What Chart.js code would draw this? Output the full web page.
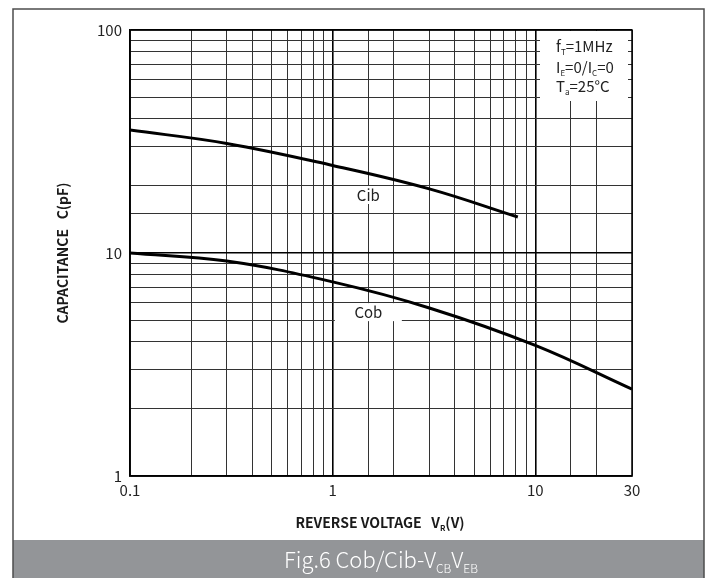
<!DOCTYPE html>
<html>
<head>
<meta charset="utf-8">
<script src="https://cdn.jsdelivr.net/npm/chart.js@4.4.1/dist/chart.umd.min.js"></script>
<style>
  html, body { margin: 0; padding: 0; background: #fff; }
  #wrap { width: 713px; height: 578px; }
</style>
</head>
<body>
<div id="wrap"><canvas id="cap-chart" width="713" height="578"></canvas></div>
<script>
// Cib / Cob curves
const cibVoltage = [0.1, 0.3, 1, 3, 8.2];
const cibValues = [35.6, 31.0, 24.7, 19.4, 14.5];
const cobVoltage = [0.1, 0.3, 1, 3, 10, 30];
const cobValues = [10, 9.2, 7.42, 5.67, 3.85, 2.45];

const xTickLabels = [0.1, 1, 10, 30];
const yTickLabels = [1, 10, 100];

const FONT = "'Noto Sans CJK SC', 'Noto Sans', sans-serif";

function toPoints(xs, ys) {
    return xs.map((x, i) => ({ x: x, y: ys[i] }));
}

function isLabelled(value, list) {
    return list.some(v => Math.abs(v - value) / v < 1e-6);
}

// draw a string made of runs, some of them subscripts
function drawRuns(ctx, runs, x, y, size, weight, align) {
    const subSize = Math.round(size * 0.55);
    let total = 0;
    runs.forEach(r => {
        ctx.font = weight + ' ' + (r.sub ? subSize : size) + 'px ' + FONT;
        r.w = ctx.measureText(r.t).width;
        total += r.w;
    });
    let cx = align === 'center' ? x - total / 2 : x;
    ctx.textAlign = 'left';
    ctx.textBaseline = 'alphabetic';
    runs.forEach(r => {
        ctx.font = weight + ' ' + (r.sub ? subSize : size) + 'px ' + FONT;
        ctx.fillText(r.t, cx, r.sub ? y + size * 0.22 : y);
        cx += r.w;
    });
}

const decorPlugin = {
    id: 'decor',
    beforeDraw(chart) {
        const ctx = chart.ctx;
        ctx.save();
        ctx.fillStyle = '#fff';
        ctx.fillRect(0, 0, chart.width, chart.height);
        // grey caption bar
        ctx.fillStyle = '#939598';
        ctx.fillRect(13, 540, 691, 38);
        // outer frame
        ctx.strokeStyle = '#4d4d4d';
        ctx.lineWidth = 1.5;
        ctx.beginPath();
        ctx.moveTo(13, 578);
        ctx.lineTo(13, 9);
        ctx.lineTo(704, 9);
        ctx.lineTo(704, 578);
        ctx.stroke();
        // caption
        ctx.fillStyle = '#fff';
        drawRuns(ctx, [
            { t: 'Fig.6 Cob/Cib-V' }, { t: 'CB', sub: true },
            { t: 'V' }, { t: 'EB', sub: true }
        ], 381, 568, 22, '300', 'center');
        ctx.restore();
    },
    beforeDatasetsDraw(chart) {
        const ctx = chart.ctx;
        const area = chart.chartArea;
        const xs = chart.scales.x;
        const ys = chart.scales.y;
        ctx.save();

        // conditions box in the top right corner
        ctx.fillStyle = '#fff';
        ctx.fillRect(540, area.top + 1, area.right - 4 - 540, 70);
        ctx.fillStyle = '#222';
        drawRuns(ctx, [{ t: 'f' }, { t: 'T', sub: true }, { t: '=1MHz' }], 556, 52, 15, 'normal', 'left');
        drawRuns(ctx, [{ t: 'I' }, { t: 'E', sub: true }, { t: '=0/I' }, { t: 'C', sub: true }, { t: '=0' }], 556, 73, 15, 'normal', 'left');
        drawRuns(ctx, [{ t: 'T' }, { t: 'a', sub: true }, { t: '=25°C' }], 556, 92, 15, 'normal', 'left');

        // curve labels
        const labels = [
            { text: 'Cib', x: 1.5, y: 18.2, w: 40 },
            { text: 'Cob', x: 1.5, y: 5.43, w: 67 }
        ];
        labels.forEach(l => {
            const px = xs.getPixelForValue(l.x);
            const py = ys.getPixelForValue(l.y);
            ctx.fillStyle = '#fff';
            ctx.fillRect(px - l.w / 2, py - 9, l.w, 18);
            ctx.fillStyle = '#222';
            ctx.font = '15px ' + FONT;
            ctx.textAlign = 'center';
            ctx.textBaseline = 'middle';
            ctx.fillText(l.text, px, py);
        });

        // redraw plot border on top of the boxes
        ctx.strokeStyle = '#000';
        ctx.lineWidth = 1.5;
        ctx.strokeRect(area.left, area.top, area.right - area.left, area.bottom - area.top);
        ctx.restore();
    },
    afterDraw(chart) {
        const ctx = chart.ctx;
        ctx.save();
        ctx.fillStyle = '#1a1a1a';
        // x axis title
        drawRuns(ctx, [
            { t: 'REVERSE VOLTAGE   V' }, { t: 'R', sub: true }, { t: '(V)' }
        ], 380, 528, 14, 'bold', 'center');
        // y axis title
        ctx.translate(63, 253);
        ctx.rotate(-Math.PI / 2);
        ctx.font = 'bold 14px ' + FONT;
        ctx.textAlign = 'center';
        ctx.textBaseline = 'middle';
        ctx.fillText('CAPACITANCE   C(pF)', 0, 0);
        ctx.restore();
    }
};

function gridColor(ctx) {
    return ctx.tick && ctx.tick.major ? '#000' : '#333';
}
function gridWidth(ctx) {
    return ctx.tick && ctx.tick.major ? 1.6 : 1;
}

new Chart(document.getElementById('cap-chart'), {
    type: 'line',
    data: {
        datasets: [{
            label: 'Cib',
            data: toPoints(cibVoltage, cibValues),
            borderColor: '#000',
            borderWidth: 3,
            pointRadius: 0,
            tension: 0.4,
            fill: false
        }, {
            label: 'Cob',
            data: toPoints(cobVoltage, cobValues),
            borderColor: '#000',
            borderWidth: 3,
            pointRadius: 0,
            tension: 0.4,
            fill: false
        }]
    },
    options: {
        responsive: false,
        animation: false,
        layout: { padding: { top: 30, right: 81, left: 0, bottom: 0 } },
        plugins: {
            legend: { display: false },
            tooltip: { enabled: false }
        },
        scales: {
            x: {
                type: 'logarithmic',
                min: 0.1,
                max: 30,
                grid: { color: gridColor, lineWidth: gridWidth, drawTicks: false },
                border: { color: '#000', width: 1.5 },
                ticks: {
                    autoSkip: false,
                    maxRotation: 0,
                    padding: 5,
                    color: '#222',
                    font: { family: FONT, size: 15 },
                    callback: value => isLabelled(value, xTickLabels) ? String(value) : ''
                },
                afterFit: scale => { scale.height = 102; }
            },
            y: {
                type: 'logarithmic',
                min: 1,
                max: 100,
                grid: { color: gridColor, lineWidth: gridWidth, drawTicks: false },
                border: { color: '#000', width: 1.5 },
                ticks: {
                    autoSkip: false,
                    padding: 8,
                    color: '#222',
                    font: { family: FONT, size: 15 },
                    callback: value => isLabelled(value, yTickLabels) ? String(value) : ''
                },
                afterFit: scale => { scale.width = 130; }
            }
        }
    },
    plugins: [decorPlugin]
});
</script>
</body>
</html>
